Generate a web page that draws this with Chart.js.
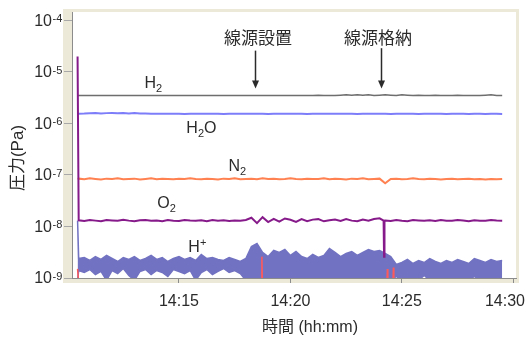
<!DOCTYPE html>
<html>
<head>
<meta charset="utf-8">
<script src="https://cdn.jsdelivr.net/npm/chart.js@4.4.1/dist/chart.umd.min.js"></script>
<style>
  html, body { margin: 0; padding: 0; background: #fff; }
  canvas { display: block; }
</style>
</head>
<body>
<canvas id="chart" width="527" height="340"></canvas>
<script>
// time in minutes after 14:00
const minutes = [10.45,
  10.5, 10.75, 11, 11.25, 11.5, 11.75, 12, 12.25, 12.5, 12.75,
  13, 13.25, 13.5, 13.75, 14, 14.25, 14.5, 14.75, 15, 15.25,
  15.5, 15.75, 16, 16.25, 16.5, 16.75, 17, 17.25, 17.5, 17.75,
  18, 18.25, 18.5, 18.75, 19, 19.25, 19.5, 19.75, 20, 20.25,
  20.5, 20.75, 21, 21.25, 21.5, 21.75, 22, 22.25, 22.5, 22.75,
  23, 23.25, 23.5, 23.75, 24, 24.25, 24.5, 24.75, 25, 25.25,
  25.5, 25.75, 26, 26.25, 26.5, 26.75, 27, 27.25, 27.5, 27.75,
  28, 28.25, 28.5, 28.75, 29, 29.25, 29.5];

// H2, x1e-6 Pa
const h2 = [3.5,
  3.5, 3.5, 3.5, 3.5, 3.5, 3.5, 3.5, 3.5, 3.5, 3.5,
  3.5, 3.5, 3.5, 3.5, 3.5, 3.5, 3.5, 3.5, 3.5, 3.5,
  3.5, 3.5, 3.5, 3.5, 3.5, 3.5, 3.5, 3.5, 3.5, 3.5,
  3.5, 3.5, 3.5, 3.5, 3.5, 3.5, 3.5, 3.5, 3.5, 3.5,
  3.5, 3.5, 3.5, 3.55, 3.5, 3.5, 3.5, 3.55, 3.6, 3.55,
  3.6, 3.55, 3.6, 3.5, 3.55, 3.6, 3.55, 3.5, 3.6, 3.55,
  3.5, 3.55, 3.5, 3.5, 3.55, 3.5, 3.5, 3.5, 3.55, 3.5,
  3.5, 3.5, 3.5, 3.55, 3.6, 3.5, 3.5];

// H2O, x1e-6 Pa
const h2o = [1.54,
  1.55, 1.56, 1.58, 1.6, 1.57, 1.59, 1.6, 1.58, 1.6, 1.57,
  1.59, 1.56, 1.57, 1.55, 1.54, 1.54, 1.55, 1.54, 1.54, 1.53,
  1.54, 1.54, 1.55, 1.54, 1.54, 1.54, 1.53, 1.54, 1.54, 1.54,
  1.55, 1.54, 1.54, 1.54, 1.53, 1.54, 1.54, 1.55, 1.54, 1.54,
  1.54, 1.53, 1.54, 1.55, 1.54, 1.54, 1.54, 1.55, 1.54, 1.54,
  1.53, 1.54, 1.54, 1.55, 1.54, 1.54, 1.53, 1.54, 1.54, 1.54,
  1.54, 1.53, 1.54, 1.54, 1.54, 1.54, 1.53, 1.54, 1.54, 1.54,
  1.53, 1.54, 1.54, 1.53, 1.54, 1.54, 1.53];

// N2, x1e-8 Pa
const n2 = [8.4,
  8.5, 8.3, 8.6, 8.4, 8.2, 8.5, 8.4, 8.6, 8.3, 8.4,
  8.5, 8.2, 8.4, 8.6, 8.3, 8.5, 8.4, 8.3, 8.5, 8.4,
  8.6, 8.4, 8.3, 8.5, 8.4, 8.2, 8.5, 8.4, 8.6, 8.3,
  8.4, 8.5, 8.3, 8.6, 8.4, 8.5, 8.3, 8.4, 8.6, 8.4,
  8.3, 8.5, 8.4, 8.4, 8.6, 8.3, 8.5, 8.4, 8.2, 8.5,
  8.4, 8.6, 8.3, 8.4, 8.5, 6.9, 8.4, 8.5, 8.3, 8.4,
  8.6, 8.4, 8.3, 8.5, 8.4, 8.2, 8.4, 8.5, 8.3, 8.4,
  8.5, 8.3, 8.4, 8.2, 8.4, 8.3, 8.4];

// O2, x1e-9 Pa
const o2 = [20000,
  13.2, 12.8, 13.4, 13.0, 12.6, 13.3, 13.1, 12.9, 13.5, 13.0,
  12.7, 13.2, 13.4, 12.9, 13.1, 12.6, 13.3, 13.0, 12.8, 13.4,
  13.1, 12.9, 13.2, 12.7, 13.3, 13.0, 13.2, 12.8, 13.1, 12.9,
  13.4, 14.8, 11.6, 15.2, 12.2, 14.1, 12.4, 14.3, 13.5, 12.3,
  13.9, 12.7, 13.6, 13.9, 12.6, 13.2, 13.7, 12.8, 13.9, 13.0,
  12.6, 13.6, 12.9, 14.0, 14.4, 13.1, 12.8, 13.4, 13.0, 12.7,
  13.3, 13.1, 12.9, 13.2, 12.8, 13.4, 13.0, 12.9, 13.3, 13.1,
  12.7, 13.2, 13.0, 12.9, 13.3, 13.1, 13.0];
const o2DropMinutes = [24.18, 24.2, 24.22];
const o2Drop = [13.0, 2.6, 13.0];

// H+ band, upper and lower edge, x1e-9 Pa
const hPlusHigh = [13,
  2.39, 2.50, 2.19, 2.61, 2.29, 2.74, 2.39, 2.09, 2.50, 2.29,
  2.61, 2.19, 2.39, 2.74, 2.29, 2.50, 2.09, 2.39, 2.61, 2.29,
  2.50, 2.19, 2.86, 2.39, 2.50, 2.29, 2.19, 2.50, 2.29, 2.09,
  2.39, 4.09, 4.68, 3.13, 2.61, 3.42, 3.13, 3.57, 2.74, 3.27,
  2.61, 2.39, 2.86, 2.50, 2.74, 3.74, 3.13, 2.61, 2.99, 3.27,
  2.74, 3.13, 3.57, 3.27, 3.42, 2.99, 2.61, 1.83, 2.00, 2.29,
  1.91, 2.19, 2.00, 2.39, 2.09, 1.91, 2.19, 2.00, 2.29, 2.09,
  1.91, 2.39, 2.19, 2.00, 2.29, 2.09, 2.19];
const hPlusLow = [0.9,
  1.40, 1.28, 1.46, 1.17, 1.34, 0.9, 1.40, 1.22, 1.53, 1.12,
  0.9, 1.34, 1.46, 1.17, 1.40, 1.28, 1.07, 1.46, 1.34, 1.22,
  1.40, 0.9, 1.28, 1.46, 1.17, 1.34, 1.53, 1.28, 1.40, 1.22,
  0.9, 0.9, 0.9, 0.9, 0.9, 0.9, 0.9, 0.9, 0.9, 0.9,
  0.9, 0.9, 0.9, 0.9, 0.9, 0.9, 0.9, 0.9, 0.9, 0.9,
  0.9, 0.9, 0.9, 0.9, 0.9, 0.9, 0.9, 1.07, 0.9, 0.9,
  0.9, 0.9, 1.12, 0.9, 0.9, 0.9, 1.02, 0.9, 0.9, 0.9,
  0.9, 1.07, 0.9, 0.9, 0.9, 1.02, 0.9];

// red trace, mostly below the axis, x1e-9 Pa
const redMinutes = [10.45, 10.5, 18.7, 18.72, 18.74, 24.33, 24.35, 24.37, 24.6, 24.62, 24.64, 29.5];
const red = [1.5, 0.8, 0.8, 2.6, 0.8, 0.8, 1.5, 0.8, 0.8, 1.6, 0.8, 0.8];

const xTicks = [15, 20, 25, 30];
const xTickLabels = ['14:15', '14:20', '14:25', '14:30'];
const yTicks = [1e-9, 1e-8, 1e-7, 1e-6, 1e-5, 1e-4];
const yExponents = ['-9', '-8', '-7', '-6', '-5', '-4'];

const FONT = '"Liberation Sans", "Noto Sans CJK JP", sans-serif';
const CJK = '"Noto Sans CJK JP", sans-serif';

const pts = (vals, unit) => minutes.map((m, i) => ({x: m, y: vals[i] * unit}));

const o2Points = pts(o2, 1e-9)
  .concat(o2DropMinutes.map((m, i) => ({x: m, y: o2Drop[i] * 1e-9})))
  .sort((a, b) => a.x - b.x);

// label anchors: [minute, Pa]
const gasLabels = [
  {at: [13.45, 4.8e-6], parts: [['H', 0], ['2', 1]]},
  {at: [15.33, 6.4e-7], parts: [['H', 0], ['2', 1], ['O', 0]]},
  {at: [17.22, 1.22e-7], parts: [['N', 0], ['2', 1]]},
  {at: [14.03, 2.24e-8], parts: [['O', 0], ['2', 1]]},
  {at: [15.42, 3.27e-9], parts: [['H', 0], ['+', -1]]}
];
const events = [
  {text: '線源設置', textAt: [18.55, 4.6e-5], from: [18.41, 2.6e-5], to: [18.41, 4.8e-6]},
  {text: '線源格納', textAt: [23.93, 4.6e-5], from: [24.07, 2.9e-5], to: [24.07, 4.8e-6]}
];

const frame = {
  id: 'frame',
  beforeDraw(chart) {
    const {ctx, chartArea: a} = chart;
    ctx.save();
    ctx.fillStyle = '#ece9d8';
    ctx.fillRect(a.left - 9, a.top - 3, a.right - a.left + 12, a.bottom - a.top + 8);
    ctx.fillStyle = '#fff';
    ctx.fillRect(a.left, a.top, a.right - a.left, a.bottom - a.top);
    ctx.restore();
  },
  afterDatasetsDraw(chart) {
    const {ctx, scales: {x, y}} = chart;
    ctx.save();
    ctx.fillStyle = '#2b2b2b';
    ctx.strokeStyle = '#2b2b2b';

    // gas names with sub/superscripts
    gasLabels.forEach(l => {
      let px = x.getPixelForValue(l.at[0]);
      const py = y.getPixelForValue(l.at[1]);
      ctx.textAlign = 'left';
      ctx.textBaseline = 'alphabetic';
      l.parts.forEach(([t, pos]) => {
        ctx.font = (pos === 0 ? 16 : 11) + 'px ' + FONT;
        const dy = pos === 1 ? 4 : pos === -1 ? -6 : 0;
        ctx.fillText(t, px, py + dy);
        px += ctx.measureText(t).width;
      });
    });

    // event markers
    events.forEach(e => {
      ctx.font = '17px ' + CJK;
      ctx.textAlign = 'center';
      ctx.textBaseline = 'middle';
      ctx.fillText(e.text, x.getPixelForValue(e.textAt[0]), y.getPixelForValue(e.textAt[1]));
      const ax = Math.round(x.getPixelForValue(e.from[0])) + 0.5;
      const y0 = y.getPixelForValue(e.from[1]);
      const y1 = y.getPixelForValue(e.to[1]);
      ctx.lineWidth = 1.5;
      ctx.beginPath();
      ctx.moveTo(ax, y0);
      ctx.lineTo(ax, y1 - 4);
      ctx.stroke();
      ctx.beginPath();
      ctx.moveTo(ax - 3.5, y1 - 8);
      ctx.lineTo(ax + 3.5, y1 - 8);
      ctx.lineTo(ax, y1);
      ctx.closePath();
      ctx.fill();
    });
    ctx.restore();
  },
  afterDraw(chart) {
    const {ctx, chartArea: a, scales: {x, y}} = chart;
    ctx.save();
    ctx.fillStyle = '#2b2b2b';

    yTicks.forEach((v, i) => {
      const py = y.getPixelForValue(v);
      ctx.font = '16px ' + FONT;
      ctx.textAlign = 'right';
      ctx.textBaseline = 'middle';
      ctx.fillText('10', 52, py + 1);
      ctx.font = '11px ' + FONT;
      ctx.textAlign = 'left';
      ctx.textBaseline = 'alphabetic';
      ctx.fillText(yExponents[i], 52.5, py + 2);
    });

    ctx.font = '16px ' + FONT;
    ctx.textAlign = 'center';
    ctx.textBaseline = 'middle';
    xTicks.forEach((v, i) => {
      const w = ctx.measureText(xTickLabels[i]).width;
      const px = Math.min(x.getPixelForValue(v), chart.width - 2 - w / 2);
      ctx.fillText(xTickLabels[i], px, a.bottom + 24);
    });

    ctx.fillText('時間 (hh:mm)', 310, a.bottom + 50);

    ctx.translate(18, 158);
    ctx.rotate(-Math.PI / 2);
    ctx.font = '17px ' + FONT;
    ctx.fillText('圧力(Pa)', 0, 0);
    ctx.restore();
  }
};

new Chart(document.getElementById('chart'), {
  type: 'line',
  data: {
    datasets: [
      {label: 'red', data: redMinutes.map((m, i) => ({x: m, y: red[i] * 1e-9})),
       borderColor: '#ff5a5a', borderWidth: 1.5, order: 0},
      {label: 'O2', data: o2Points, borderColor: '#861a8a', borderWidth: 2, order: 1},
      {label: 'N2', data: pts(n2, 1e-8), borderColor: '#ff8050', borderWidth: 2, order: 2},
      {label: 'H2O', data: pts(h2o, 1e-6), borderColor: '#7d7dfa', borderWidth: 2, order: 3},
      {label: 'H2', data: pts(h2, 1e-6), borderColor: '#6e6e6e', borderWidth: 1.5, order: 4},
      {label: 'H+', data: pts(hPlusHigh, 1e-9), borderColor: '#7272c2', backgroundColor: '#7272c2',
       borderWidth: 1.5, fill: '+1', order: 5},
      {label: 'H+ low', data: pts(hPlusLow, 1e-9), borderColor: '#7272c2', borderWidth: 1.5, order: 6}
    ]
  },
  options: {
    responsive: false,
    animation: false,
    devicePixelRatio: 1,
    layout: {padding: {top: 12, right: 11, left: 0, bottom: 0}},
    elements: {point: {radius: 0}, line: {tension: 0}},
    plugins: {legend: {display: false}, tooltip: {enabled: false}},
    scales: {
      x: {
        type: 'linear',
        min: 10.2,
        max: 30.12,
        afterBuildTicks: s => { s.ticks = xTicks.map(v => ({value: v})); },
        afterFit: s => { s.height = 62; },
        ticks: {display: false},
        grid: {drawOnChartArea: false, tickLength: 5, color: '#8c8c8c'},
        border: {color: '#8c8c8c'}
      },
      y: {
        type: 'logarithmic',
        min: 1e-9,
        max: 1.462e-4,
        afterBuildTicks: s => { s.ticks = yTicks.map(v => ({value: v})); },
        afterFit: s => { s.width = 72; },
        ticks: {display: false},
        grid: {drawOnChartArea: false, tickLength: 8, color: '#a8a8a8'},
        border: {color: '#8c8c8c'}
      }
    }
  },
  plugins: [frame]
});
</script>
</body>
</html>
